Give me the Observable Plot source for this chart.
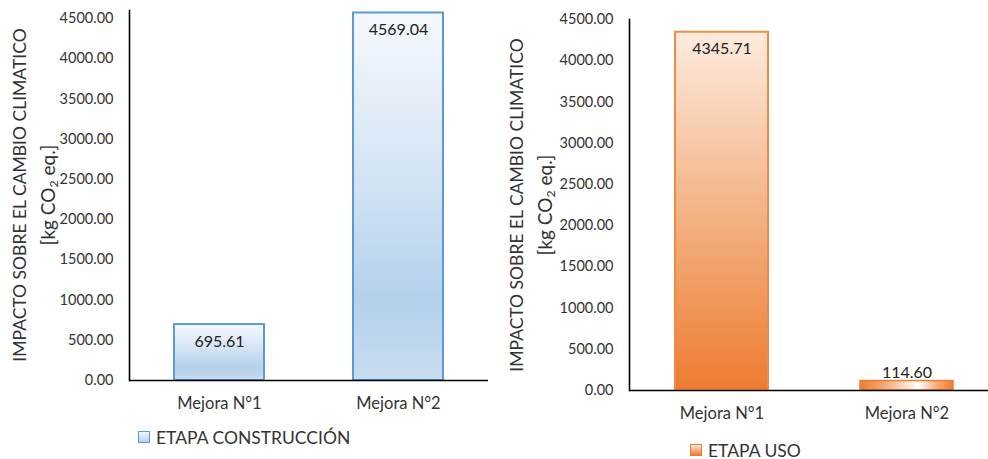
<!DOCTYPE html>
<html>
<head>
<meta charset="utf-8">
<script src="https://cdn.jsdelivr.net/npm/d3@7"></script>
<script src="https://cdn.jsdelivr.net/npm/@observablehq/plot@0.6"></script>
<style>
  body { margin: 0; background: #fff; font-family: Lato, "Open Sans", sans-serif; }
  #page { position: relative; width: 988px; height: 459px; overflow: hidden; background: #fff; }
  .panel { position: absolute; top: 0; }
  .ytitle { position: absolute; transform: translate(-50%, -50%) rotate(-90deg); white-space: nowrap;
            color: #333; line-height: 1; }
  .ytitle sub { font-size: 0.65em; vertical-align: -0.3em; line-height: 0; }
  .legend { position: absolute; height: 20px; display: flex; align-items: center; font-size: 17.5px;
            color: #333; white-space: nowrap; }
  .sw { width: 10px; height: 10px; margin-right: 6px; }
</style>
</head>
<body>
<div id="page"></div>
<script>
// Climate-change impact (kg CO2 eq.) of each improvement, by life-cycle stage
const categories = ["Mejora N°1", "Mejora N°2"];
const construccion = [695.61, 4569.04];
const uso = [4345.71, 114.60];
const yTicks = [0, 500, 1000, 1500, 2000, 2500, 3000, 3500, 4000, 4500];
const titleLine1 = "IMPACTO SOBRE EL CAMBIO CLIMATICO";
const legendConstruccion = "ETAPA CONSTRUCCIÓN";
const legendUso = "ETAPA USO";

const fmt = d3.format(".2f");
const page = document.getElementById("page");

// gradient definitions shared by the bars of one panel
function gradientDefs(specs) {
  return () => {
    const defs = d3.create("svg:defs");
    for (const g of specs) {
      const lg = defs.append("linearGradient").attr("id", g.id)
        .attr("x1", 0).attr("y1", 0)
        .attr("x2", g.horizontal ? 1 : 0).attr("y2", g.horizontal ? 0 : 1);
      for (const [o, c] of g.stops) lg.append("stop").attr("offset", o).attr("stop-color", c);
    }
    return defs.node();
  };
}

function panel(values, o) {
  const data = categories.map((c, i) => ({cat: c, v: values[i]}));
  const svg = Plot.plot({
    width: o.width, height: o.height,
    marginLeft: o.marginLeft, marginRight: o.marginRight,
    marginTop: o.marginTop, marginBottom: o.marginBottom,
    style: {fontFamily: "Lato, 'Open Sans', sans-serif", background: "#fff", overflow: "visible"},
    x: {domain: categories, paddingInner: 0.5, paddingOuter: 0.25, label: null},
    y: {domain: o.yDomain, label: null},
    marks: [
      gradientDefs(o.gradients),
      ...o.bars(data),
      Plot.ruleY([0], {stroke: "#000", strokeWidth: 1.6}),
      Plot.frame({anchor: "left", stroke: "#000", strokeWidth: 1.6}),
      Plot.axisY({ticks: yTicks, tickFormat: fmt, tickSize: 0, tickPadding: 16, fontSize: 14.5, fill: "#333", label: null}),
      Plot.axisX({tickSize: 0, tickPadding: 17, fontSize: 16.5, fill: "#333", label: null}),
      // value labels: inside the top of tall bars, above short ones
      Plot.text(data.filter(d => d.v > 500), {x: "cat", y: "v", text: d => fmt(d.v), dy: 17, fontSize: 16, fill: "#222"}),
      Plot.text(data.filter(d => d.v <= 500), {x: "cat", y: "v", text: d => fmt(d.v), dy: -8, fontSize: 16, fill: "#222"})
    ]
  });
  svg.classList.add("panel");
  svg.style.left = o.left + "px";
  page.appendChild(svg);
}

// left panel: construction stage
panel(construccion, {
  left: 0, width: 494, height: 420,
  marginLeft: 129, marginRight: 6, marginTop: 10, marginBottom: 40,
  yDomain: [0, 4600],
  gradients: [{id: "gradBlue", stops: [[0, "#f5f9fd"], [0.45, "#d3e3f4"], [0.78, "#b3d0eb"], [1, "#c8dcf0"]]}],
  bars: data => [
    Plot.barY(data, {x: "cat", y: "v", fill: "url(#gradBlue)", stroke: "#5b9bd5", strokeWidth: 2})
  ]
});

// right panel: use stage
panel(uso, {
  left: 494, width: 505, height: 430,
  marginLeft: 135, marginRight: 0, marginTop: 19, marginBottom: 40,
  yDomain: [0, 4500],
  gradients: [
    {id: "gradOrange", stops: [[0, "#fdebdf"], [0.5, "#f3b386"], [1, "#ed7b30"]]},
    {id: "gradOrangeH", horizontal: true, stops: [[0, "#ed7d31"], [0.3, "#f4b184"], [0.62, "#ffffff"], [0.85, "#f4a46c"], [1, "#ed7d31"]]}
  ],
  bars: data => [
    Plot.barY(data.filter(d => d.v > 500), {x: "cat", y: "v", fill: "url(#gradOrange)", stroke: "#f08a45", strokeWidth: 2}),
    Plot.barY(data.filter(d => d.v <= 500), {x: "cat", y: "v", fill: "url(#gradOrangeH)", stroke: "#ed7d31", strokeWidth: 1.5})
  ]
});

// axis titles
function yTitle(cx, cy, size, html) {
  const d = document.createElement("div");
  d.className = "ytitle";
  d.style.left = cx + "px";
  d.style.top = cy + "px";
  d.style.fontSize = size + "px";
  d.innerHTML = html;
  page.appendChild(d);
}
const unitHtml = "[kg CO<sub>2</sub> eq.]";
yTitle(20, 195, 17.5, titleLine1);
yTitle(47, 195, 19, unitHtml);
yTitle(517, 205, 17.5, titleLine1);
yTitle(544, 205, 19, unitHtml);

// legends
function legend(x, cy, label, bg, border) {
  const d = document.createElement("div");
  d.className = "legend";
  d.style.left = x + "px";
  d.style.top = (cy - 10) + "px";
  const sw = document.createElement("span");
  sw.className = "sw";
  sw.style.background = bg;
  sw.style.border = "1.5px solid " + border;
  d.appendChild(sw);
  d.appendChild(document.createTextNode(label));
  page.appendChild(d);
}
legend(138, 437, legendConstruccion, "linear-gradient(#f5f9fd, #b3d0eb)", "#5b9bd5");
legend(690, 450, legendUso, "linear-gradient(#fdebdf, #ed7b30)", "#ed7d31");
</script>
</body>
</html>
